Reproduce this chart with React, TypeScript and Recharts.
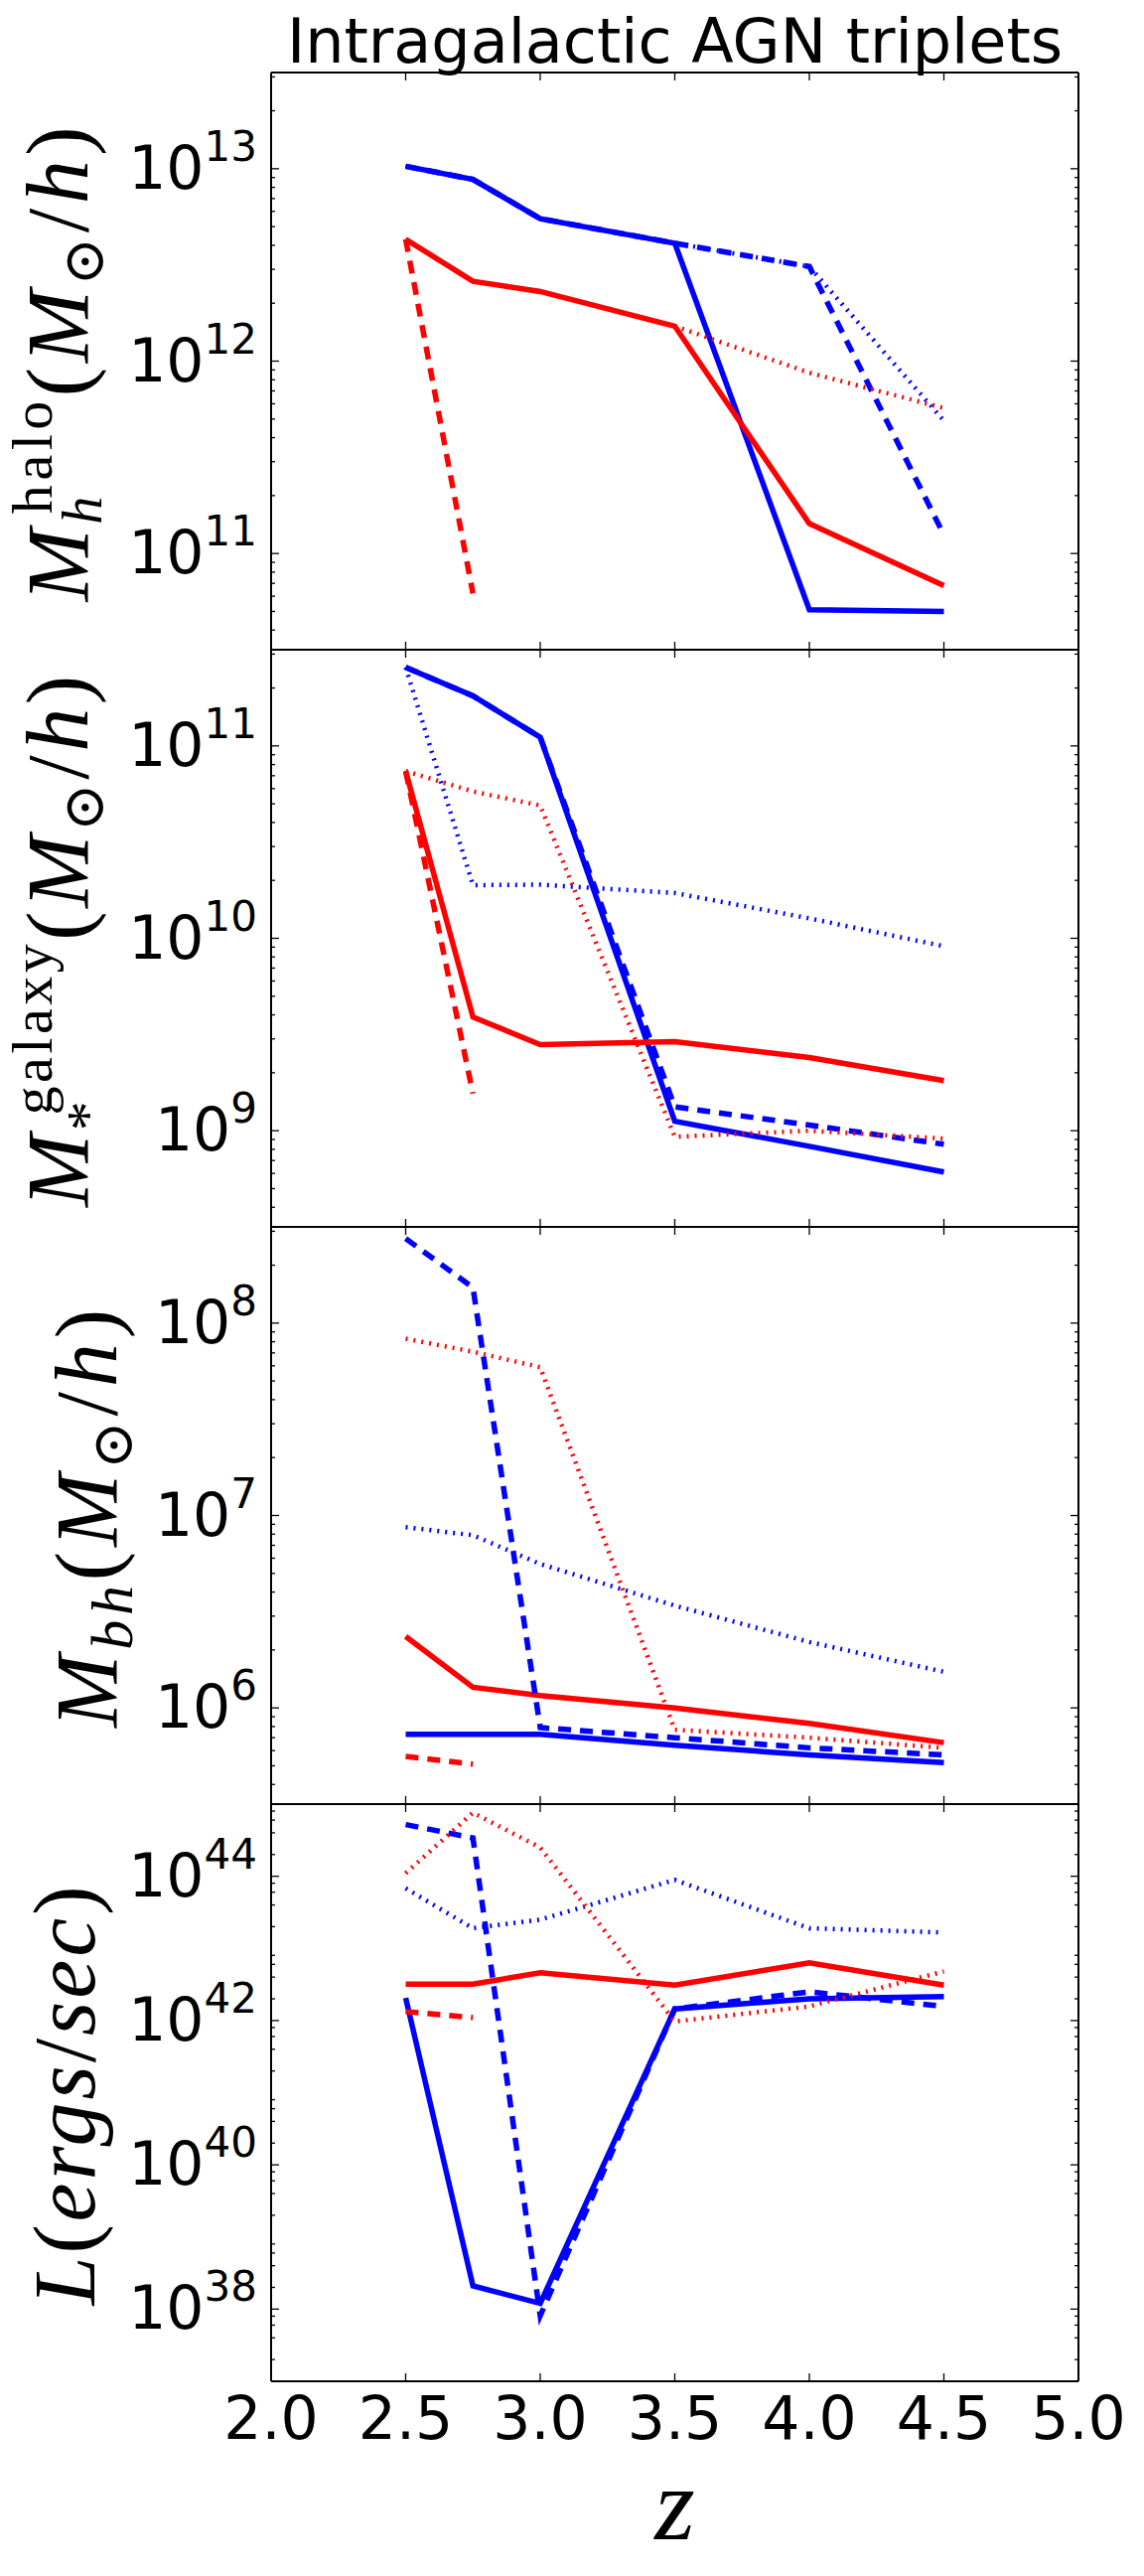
import { Label, Line, LineChart, ReferenceLine, XAxis, YAxis } from 'recharts';

// redshift grid shared by all panels
const Z = [2.5, 2.75, 3.0, 3.5, 4.0, 4.5];
const X_TICKS = [2.0, 2.5, 3.0, 3.5, 4.0, 4.5, 5.0];

// halo mass  M_h (M_sun/h)
const haloBlueSolid = [1.03e13, 8.8e12, 5.5e12, 4.1e12, 5.1e10, 5.0e10];
const haloBlueDashed = [1.03e13, 8.8e12, 5.5e12, 4.1e12, 3.1e12, 1.25e11];
const haloBlueDotted = [1.03e13, 8.8e12, 5.5e12, 4.1e12, 3.1e12, 4.9e11];
const haloRedSolid = [4.3e12, 2.6e12, 2.3e12, 1.52e12, 1.43e11, 6.8e10];
const haloRedDashed = [4.3e12, 6.2e10];
const haloRedDotted = [4.3e12, 2.6e12, 2.3e12, 1.52e12, 8.7e11, 5.7e11];

// stellar mass of the galaxy
const starBlueSolid = [2.56e11, 1.82e11, 1.11e11, 1.12e9, 8.3e8, 6.1e8];
const starBlueDashed = [2.56e11, 1.82e11, 1.11e11, 1.33e9, 1.07e9, 8.5e8];
const starBlueDotted = [2.56e11, 1.89e10, 1.9e10, 1.72e10, 1.27e10, 9.1e9];
const starRedSolid = [7.4e10, 3.9e9, 2.8e9, 2.9e9, 2.4e9, 1.82e9];
const starRedDashed = [7.4e10, 1.56e9];
const starRedDotted = [7.4e10, 5.8e10, 4.9e10, 9.3e8, 1.0e9, 9.1e8];

// black hole mass
const bhBlueSolid = [7.3e5, 7.3e5, 7.3e5, 6.4e5, 5.7e5, 5.2e5];
const bhBlueDashed = [2.75e8, 1.53e8, 7.9e5, 7.0e5, 6.2e5, 5.7e5];
const bhBlueDotted = [8.7e6, 7.9e6, 5.6e6, 3.4e6, 2.2e6, 1.54e6];
const bhRedSolid = [2.35e6, 1.28e6, 1.16e6, 1.0e6, 8.3e5, 6.6e5];
const bhRedDashed = [5.6e5, 5.1e5];
const bhRedDotted = [8.3e7, 7.1e7, 5.9e7, 7.7e5, 7.0e5, 6.2e5];

// luminosity (ergs/sec)
const lumBlueSolid = [2.06e42, 2.1e38, 1.2e38, 1.45e42, 2.0e42, 2.15e42];
const lumBlueDashed = [5.2e44, 3.4e44, 8.1e37, 1.45e42, 2.5e42, 1.57e42];
const lumBlueDotted = [6.8e43, 1.9e43, 2.5e43, 8.9e43, 1.9e43, 1.66e43];
const lumRedSolid = [3.2e42, 3.2e42, 4.6e42, 3.1e42, 6.3e42, 3.1e42];
const lumRedDashed = [1.33e42, 1.1e42];
const lumRedDotted = [1.1e44, 7.6e44, 2.5e44, 9.7e41, 1.57e42, 4.8e42];

const PLOT_W = 813;
const PLOT_H = 581;
const PANEL_TOPS = [73, 654, 1235, 1816];
const TOP_PAD = 10;

const BLUE = '#0000ff';
const RED = '#ff0000';
const SANS = 'DejaVu Sans';
const SERIF = 'Liberation Serif, DejaVu Serif, serif';

function rows(s: number[][]) {
  return Z.map((z, i) => ({
    z,
    bs: s[0][i] ?? null,
    bd: s[1][i] ?? null,
    bo: s[2][i] ?? null,
    rs: s[3][i] ?? null,
    rd: s[4][i] ?? null,
    ro: s[5][i] ?? null,
  }));
}

function logTicks(lo: number, hi: number, subs: number[]) {
  const out: number[] = [];
  for (let e = Math.floor(lo) - 1; e <= Math.ceil(hi); e++) {
    for (const k of [1, ...subs]) {
      const v = k * 10 ** e;
      const l = Math.log10(v);
      if (l >= lo - 1e-9 && l <= hi + 1e-9) out.push(v);
    }
  }
  return out;
}

function YTick(props: any) {
  const { x, y, payload, majors } = props;
  const l = Math.log10(payload.value);
  const e = Math.round(l);
  const major = Math.abs(l - e) < 1e-6 && majors.includes(e);
  const isDecade = Math.abs(l - e) < 1e-6;
  if (isDecade && !major) return <g />;
  const len = major ? 8 : 4;
  return (
    <g>
      <line x1={x} x2={x + len} y1={y} y2={y} stroke="#000" strokeWidth={1.3} />
      <line x1={x + PLOT_W - len} x2={x + PLOT_W} y1={y} y2={y} stroke="#000" strokeWidth={1.3} />
      {major && (
        <text x={x - 14} y={y + 20} textAnchor="end" fontFamily={SANS} fontSize={60} fill="#000">
          10
          <tspan dy={-28} fontSize={42}>
            {e}
          </tspan>
        </text>
      )}
    </g>
  );
}

function XTick(props: any) {
  const { x, y, payload, showLabel } = props;
  return (
    <g>
      <line x1={x} x2={x} y1={y} y2={y - 8} stroke="#000" strokeWidth={1.3} />
      <line x1={x} x2={x} y1={y - PLOT_H} y2={y - PLOT_H + 8} stroke="#000" strokeWidth={1.3} />
      {showLabel && (
        <text x={x} y={y + 58} textAnchor="middle" fontFamily={SANS} fontSize={60} fill="#000">
          {payload.value.toFixed(1)}
        </text>
      )}
    </g>
  );
}

function MathLabel({ bx, cy, length, children }: any) {
  return (
    <text
      transform={`rotate(-90 ${bx} ${cy})`}
      x={bx}
      y={cy}
      textAnchor="middle"
      fontFamily={SERIF}
      fontSize={88}
      textLength={length}
      lengthAdjust="spacing"
      fill="#000"
    >
      {children}
    </text>
  );
}

const sunOverH = [
  <tspan key="a" fontStyle="italic">M</tspan>,
  <tspan key="b" fontSize={58} dy={16} fontFamily="DejaVu Serif">⊙</tspan>,
  <tspan key="c" dy={-16}>/</tspan>,
  <tspan key="d" fontStyle="italic">h</tspan>,
  <tspan key="e">)</tspan>,
];

const labels = [
  (bx: number, cy: number) => (
    <MathLabel bx={bx} cy={cy} length={478}>
      <tspan fontStyle="italic">M</tspan>
      <tspan fontStyle="italic" fontSize={56} dy={14}>h</tspan>
      <tspan fontSize={58} dx={-22} dy={-50}>halo</tspan>
      <tspan dy={36}>(</tspan>
      {sunOverH}
    </MathLabel>
  ),
  (bx: number, cy: number) => (
    <MathLabel bx={bx} cy={cy} length={535}>
      <tspan fontStyle="italic">M</tspan>
      <tspan fontSize={60} dy={20}>*</tspan>
      <tspan fontSize={58} dx={-18} dy={-56}>galaxy</tspan>
      <tspan dy={36}>(</tspan>
      {sunOverH}
    </MathLabel>
  ),
  (bx: number, cy: number) => (
    <MathLabel bx={bx} cy={cy} length={421}>
      <tspan fontStyle="italic">M</tspan>
      <tspan fontStyle="italic" fontSize={60} dy={16}>bh</tspan>
      <tspan dy={-16}>(</tspan>
      {sunOverH}
    </MathLabel>
  ),
  (bx: number, cy: number) => (
    <MathLabel bx={bx} cy={cy} length={422}>
      <tspan fontStyle="italic">L</tspan>
      <tspan>(</tspan>
      <tspan fontStyle="italic">ergs</tspan>
      <tspan>/</tspan>
      <tspan fontStyle="italic">sec</tspan>
      <tspan>)</tspan>
    </MathLabel>
  ),
];

const panels = [
  {
    data: rows([haloBlueSolid, haloBlueDashed, haloBlueDotted, haloRedSolid, haloRedDashed, haloRedDotted]),
    lo: 10.5, hi: 13.5, majors: [11, 12, 13], subs: [2, 3, 4, 5, 6, 7, 8, 9], labelX: 88,
  },
  {
    data: rows([starBlueSolid, starBlueDashed, starBlueDotted, starRedSolid, starRedDashed, starRedDotted]),
    lo: 8.5, hi: 11.5, majors: [9, 10, 11], subs: [2, 3, 4, 5, 6, 7, 8, 9], labelX: 88,
  },
  {
    data: rows([bhBlueSolid, bhBlueDashed, bhBlueDotted, bhRedSolid, bhRedDashed, bhRedDotted]),
    lo: 5.5, hi: 8.5, majors: [6, 7, 8], subs: [2, 3, 4, 5, 6, 7, 8, 9], labelX: 117,
  },
  {
    data: rows([lumBlueSolid, lumBlueDashed, lumBlueDotted, lumRedSolid, lumRedDashed, lumRedDotted]),
    lo: 37, hi: 45, majors: [38, 40, 42, 44], subs: [2, 4, 6, 8], labelX: 95,
  },
];

function Panel({ idx }: { idx: number }) {
  const p = panels[idx];
  const last = idx === panels.length - 1;
  const xAxisH = last ? 180 : 10;
  const domain = [10 ** p.lo, 10 ** p.hi];
  const ticks = logTicks(p.lo, p.hi, p.subs);
  return (
    <div style={{ position: 'absolute', left: 0, top: PANEL_TOPS[idx] - TOP_PAD }}>
      <LineChart
        width={1152}
        height={TOP_PAD + PLOT_H + xAxisH}
        data={p.data}
        margin={{ top: TOP_PAD, right: 66, left: 173, bottom: 0 }}
      >
        <XAxis
          dataKey="z"
          type="number"
          domain={[2, 5]}
          ticks={X_TICKS}
          allowDataOverflow
          interval={0}
          height={xAxisH}
          tickSize={0}
          tickMargin={0}
          axisLine={{ stroke: '#000', strokeWidth: 2 }}
          tick={(t: any) => <XTick {...t} showLabel={last} />}
        >
          {last && (
            <Label
              content={(lp: any) => {
                const vb = lp.viewBox;
                return (
                  <text x={vb.x + vb.width / 2} y={vb.y + 159} textAnchor="middle" fontFamily={SERIF}
                    fontStyle="italic" fontSize={104} fill="#000">
                    z
                  </text>
                );
              }}
            />
          )}
        </XAxis>
        <YAxis
          scale="log"
          type="number"
          domain={domain}
          allowDataOverflow
          ticks={ticks}
          interval={0}
          width={100}
          tickSize={0}
          tickMargin={0}
          axisLine={{ stroke: '#000', strokeWidth: 2 }}
          tick={(t: any) => <YTick {...t} majors={p.majors} />}
        >
          <Label
            content={(lp: any) => {
              const vb = lp.viewBox;
              return labels[idx](p.labelX, vb.y + vb.height / 2 + 3);
            }}
          />
        </YAxis>
        <ReferenceLine y={domain[1]} stroke="#000" strokeWidth={2} />
        <ReferenceLine x={5} stroke="#000" strokeWidth={2} />
        <Line dataKey="bs" type="linear" stroke={BLUE} strokeWidth={5.5} dot={false} isAnimationActive={false} />
        <Line dataKey="rs" type="linear" stroke={RED} strokeWidth={5.5} dot={false} isAnimationActive={false} />
        <Line dataKey="bd" type="linear" stroke={BLUE} strokeWidth={5.5} strokeDasharray="13 9" dot={false} isAnimationActive={false} />
        <Line dataKey="rd" type="linear" stroke={RED} strokeWidth={5.5} strokeDasharray="13 9" dot={false} isAnimationActive={false} />
        <Line dataKey="bo" type="linear" stroke={BLUE} strokeWidth={4.5} strokeDasharray="2 6" dot={false} isAnimationActive={false} />
        <Line dataKey="ro" type="linear" stroke={RED} strokeWidth={4.5} strokeDasharray="2 6" dot={false} isAnimationActive={false} />
      </LineChart>
    </div>
  );
}

export default function App() {
  return (
    <div style={{ position: 'absolute', left: 0, top: 0, width: 1152, height: 2593, background: '#fff' }}>
      <svg width={1152} height={80} style={{ position: 'absolute', left: 0, top: 0 }}>
        <text x={679.5} y={63} textAnchor="middle" fontFamily={SANS} fontSize={62} fill="#000">
          Intragalactic AGN triplets
        </text>
      </svg>
      {panels.map((_, i) => (
        <Panel key={i} idx={i} />
      ))}
    </div>
  );
}
